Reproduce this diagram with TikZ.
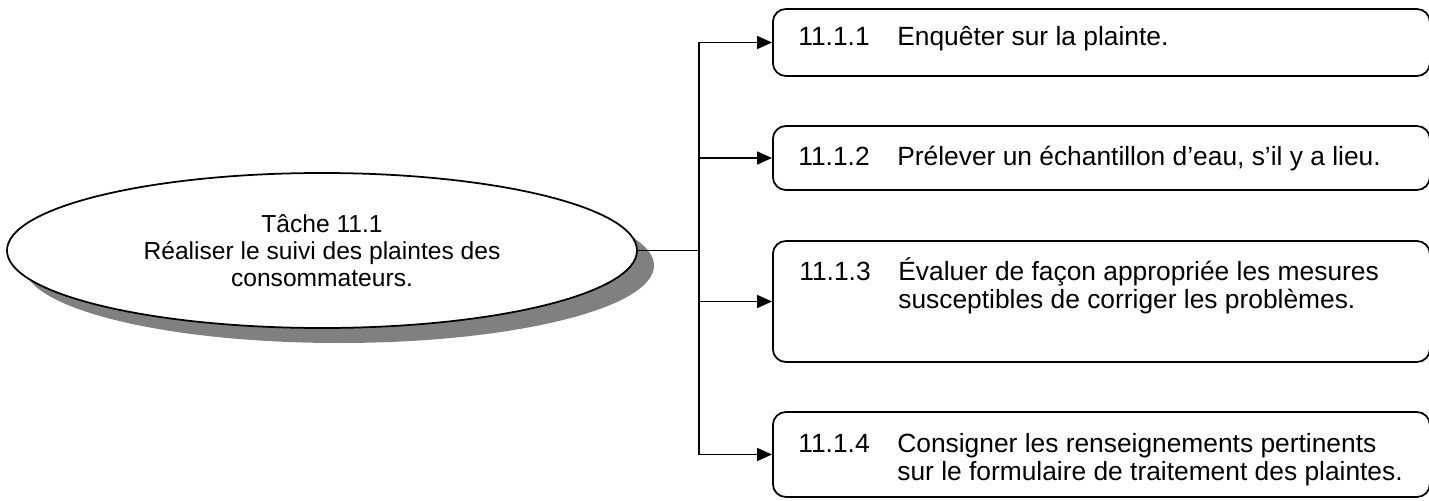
\documentclass[tikz,border=0pt]{standalone}
\usepackage{fontspec}
\setmainfont{Liberation Sans}
\usetikzlibrary{arrows.meta, shapes.geometric, shadows}
\newlength{\px}
\setlength{\px}{0.02cm}
\tikzset{
  taskshape/.style={ellipse, draw, line width=1pt, fill=white, minimum width=630\px, minimum height=155\px, inner sep=0pt, align=center, font=\fontsize{14}{15.5}\selectfont, drop shadow={shadow xshift=17\px, shadow yshift=-15\px, fill=gray, opacity=1}},
  stepbox/.style={draw, line width=1pt, rounded corners=13\px, minimum width=657\px, anchor=west, inner sep=0pt},
  steptext/.style={anchor=base west, inner sep=0pt, font=\fontsize{15}{16}\selectfont},
  link/.style={line width=1pt},
  arrowlink/.style={line width=1pt, -{Triangle[length=0.3cm, width=0.26cm]}},
}

\begin{document}
\begin{tikzpicture}[x=0.02cm, y=-0.02cm]
  \useasboundingbox (0,0) rectangle (1429,500);

  % Task
  \node[taskshape] (task) at (322, 250.5) {Tâche 11.1\\Réaliser le suivi des plaintes des\\consommateurs.};

  % Steps
  \node[stepbox, minimum height=67\px] (b1) at (772, 42.5) {};
  \node[stepbox, minimum height=64\px] (b2) at (772, 158) {};
  \node[stepbox, minimum height=121\px] (b3) at (772, 301.5) {};
  \node[stepbox, minimum height=85\px] (b4) at (772, 454.5) {};

  \node[steptext] (t1) at (798, 46) {\begin{tabular}[t]{@{}p{99\px}@{}l@{}}
    11.1.1 & Enquêter sur la plainte.\end{tabular}};
  \node[steptext] (t2) at (798, 165) {\begin{tabular}[t]{@{}p{99\px}@{}l@{}}
    11.1.2 & Prélever un échantillon d’eau, s’il y a lieu.\end{tabular}};
  \node[steptext] (t3) at (799, 280) {\begin{tabular}[t]{@{}p{99\px}@{}l@{}}
    11.1.3 & Évaluer de façon appropriée les mesures\\
           & susceptibles de corriger les problèmes.\end{tabular}};
  \node[steptext] (t4) at (798, 452) {\begin{tabular}[t]{@{}p{99\px}@{}l@{}}
    11.1.4 & Consigner les renseignements pertinents\\
           & sur le formulaire de traitement des plaintes.\end{tabular}};

  % Links
  \coordinate (trunk) at (699, 0);
  \draw[link] (task.east) -- (task.east -| trunk);
  \draw[link] (trunk |- b1.west) -- (trunk |- b4.west);
  \foreach \b in {b1, b2, b3, b4}
    \draw[arrowlink] (trunk |- \b.west) -- (\b.west);
\end{tikzpicture}
\end{document}
